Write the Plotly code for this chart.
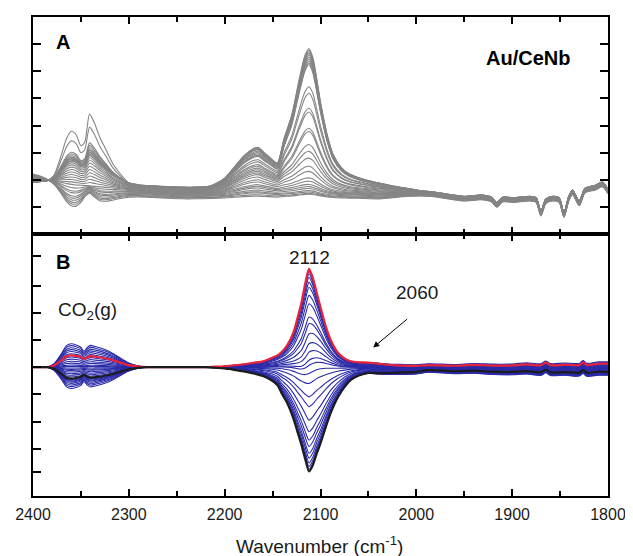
import numpy as np
import plotly.graph_objects as go

# ---------------- Panel A : raw spectra (grey) ----------------
wavenumber_A = [2400, 2392, 2385, 2378, 2370, 2365, 2360, 2355, 2350, 2346,
                2341, 2336, 2330, 2324, 2317, 2310, 2300, 2290, 2275, 2260,
                2245, 2230, 2215, 2200, 2190, 2180, 2170, 2165, 2158, 2150,
                2145, 2138, 2130, 2122, 2116, 2112, 2108, 2100, 2093, 2087,
                2078, 2070, 2060, 2050, 2040, 2025, 2010, 1995, 1984, 1965,
                1950, 1933, 1922, 1916, 1910, 1899, 1882, 1875, 1870, 1865,
                1858, 1851, 1846, 1841, 1837, 1830, 1824, 1813, 1806, 1800]

base_A = [1.98, 1.98, 1.98, 1.97, 1.96, 1.95, 1.94, 1.93, 1.92, 1.91,
          1.90, 1.88, 1.86, 1.84, 1.82, 1.80, 1.76, 1.72, 1.68, 1.65,
          1.63, 1.63, 1.64, 1.64, 1.64, 1.64, 1.64, 1.64, 1.64, 1.64,
          1.64, 1.64, 1.64, 1.64, 1.64, 1.64, 1.64, 1.64, 1.64, 1.64,
          1.64, 1.64, 1.64, 1.63, 1.62, 1.60, 1.58, 1.55, 1.52, 1.42,
          1.35, 1.40, 1.33, 1.12, 1.32, 1.30, 1.35, 1.30, 0.80, 1.25,
          1.35, 1.30, 0.75, 1.35, 1.58, 1.18, 1.65, 1.76, 1.88, 1.62]

band_2112_A = [0, 0, 0, 0, 0, 0, 0, 0, 0, 0,
               0, 0, 0, 0, 0, 0, 0, 0, 0, 0,
               0, 0, 0, 0, 0, 0, 0, 0, 0, 0,
               0, 0.22, 0.43, 0.74, 0.94, 1.0, 0.94, 0.62, 0.38, 0.24,
               0.14, 0.10, 0.07, 0.05, 0.035, 0.02, 0.01, 0, 0, 0,
               0, 0, 0, 0, 0, 0, 0, 0, 0, 0,
               0, 0, 0, 0, 0, 0, 0, 0, 0, 0]

band_2165_A = [0, 0, 0, 0, 0, 0, 0, 0, 0, 0,
               0, 0, 0, 0, 0, 0, 0, 0, 0, 0,
               0, 0, 0.02, 0.22, 0.50, 0.78, 0.97, 1.0, 0.85, 0.68,
               0.60, 0.50, 0.40, 0.30, 0.24, 0.20, 0.17, 0.10, 0.06, 0.04,
               0.02, 0, 0, 0, 0, 0, 0, 0, 0, 0,
               0, 0, 0, 0, 0, 0, 0, 0, 0, 0,
               0, 0, 0, 0, 0, 0, 0, 0, 0, 0]

co2_up_A = [0, 0, 0, 0.08, 0.40, 0.62, 0.73, 0.68, 0.52, 0.58,
            1.0, 0.88, 0.66, 0.50, 0.30, 0.17, 0.03, 0, 0, 0] + [0] * 50

co2_down_A = [0, 0, 0, 0.15, 0.55, 0.85, 1.0, 0.95, 0.70, 0.35,
              0.10, 0.30, 0.50, 0.50, 0.40, 0.28, 0.12, 0.03, 0, 0] + [0] * 50

offset_shape_A = ([-0.7, -0.45, -0.1, 0.15, 0.5, 0.75, 0.9, 1, 1, 1]
                  + [1] * 30
                  + [1, 1, 1, 1, 1, 0.8, 0.6, 0.45, 0.4, 0.4]
                  + [0.4] * 20)

peak_2112_A = [6.84, 6.78, 6.72, 6.66, 6.60, 6.52, 6.45, 6.38, 6.30, 6.24,
               5.43, 5.19, 4.64, 4.50, 3.90, 3.78, 3.30, 3.05, 2.80, 2.50,
               2.31, 2.07, 1.95, 1.83, 1.75, 1.68, 1.60, 1.55, 1.50, 1.47]
peak_2165_A = [3.20, 3.18, 3.15, 3.12, 3.10, 3.05, 3.00, 2.95, 2.90, 2.86,
               2.74, 2.66, 2.56, 2.50, 2.43, 2.37, 2.31, 2.25, 2.19, 2.10,
               2.00, 1.92, 1.82, 1.76, 1.70, 1.62, 1.56, 1.52, 1.45, 1.40]
co2_A = [0.9, 1.0, 1.1, 0.95, 1.2, 1.05, 1.3, 0.85, 1.15, 1.4,
         2.47, 2.0, 0.8, 0.7, 0.6, 0.5, 0.4, 0.3, 0.2, 0.1,
         0.0, -0.1, -0.2, -0.25, -0.35, -0.4, -0.45, -0.5, -0.55, -0.6]
offset_A = [0.10, 0.10, 0.09, 0.09, 0.08, 0.08, 0.07, 0.07, 0.06, 0.06,
            0.05, 0.04, 0.03, 0.02, 0.00, -0.02, -0.04, -0.06, -0.08, -0.10,
            -0.12, -0.14, -0.16, -0.18, -0.20, -0.22, -0.25, -0.28, -0.30, -0.33]

# ---------------- Panel B : difference spectra ----------------
wavenumber_B = [2400, 2390, 2385, 2378, 2370, 2365, 2360, 2355, 2350, 2347,
                2343, 2340, 2335, 2325, 2318, 2310, 2300, 2290, 2280, 2250,
                2220, 2210, 2200, 2190, 2180, 2170, 2160, 2152, 2145, 2140,
                2135, 2128, 2124, 2120, 2116, 2112, 2108, 2104, 2100, 2094,
                2089, 2082, 2075, 2068, 2060, 2050, 2040, 2030, 2020, 2000,
                1988, 1960, 1940, 1920, 1900, 1885, 1870, 1865, 1860, 1845,
                1830, 1826, 1822, 1810, 1800]

base_B = [0] * 50 + [0.03, 0.0, 0.03, 0.0, 0.0, 0.04, 0.0, 0.10, 0.0, 0.02,
                     0.0, 0.10, 0.0, 0.05, 0.05]

band_up_B = ([0] * 20
             + [0, 0.005, 0.01, 0.02, 0.03, 0.045, 0.06, 0.09, 0.12, 0.16,
                0.22, 0.36, 0.50, 0.65, 0.85, 1.0, 0.91, 0.76, 0.61, 0.40,
                0.27, 0.15, 0.09, 0.06, 0.05, 0.045, 0.03, 0.015, 0.007, 0]
             + [0] * 15)
band_down_B = ([0] * 20
               + [0, 0.005, 0.012, 0.025, 0.04, 0.06, 0.085, 0.12, 0.17, 0.26,
                  0.34, 0.50, 0.62, 0.74, 0.88, 1.0, 0.94, 0.83, 0.73, 0.56,
                  0.43, 0.29, 0.19, 0.12, 0.08, 0.05, 0.04, 0.03, 0.02, 0.01]
               + [0] * 15)
band_shift_B = ([0] * 30
                + [-0.05, -0.2, -0.35, -0.45, -0.35, 0, 0.3, 0.5, 0.55, 0.45,
                   0.3, 0.15, 0.05, 0, 0, 0, 0, 0, 0, 0]
                + [0] * 15)
co2_B = ([0, 0, 0, 0.15, 0.60, 0.92, 1.0, 0.95, 0.85, 0.68,
          0.85, 0.93, 0.88, 0.75, 0.62, 0.42, 0.18, 0.05, 0, 0] + [0] * 45)
tail_B = ([0] * 40
          + [0, 0, 0, 0, 0, 0.1, 0.3, 0.45, 0.55, 0.6,
             0.62, 0.68, 0.72, 0.76, 0.8, 0.83, 0.86, 0.87, 0.88, 0.91,
             0.94, 0.95, 0.96, 0.98, 1.0])

amp_2112_blue = [3.55, 3.46, 3.33, 3.15, 2.96, 2.66, 2.35, 1.86, 1.61, 1.24,
                 0.87, 0.56, 0.26, 0.07, -0.23, -0.60, -1.10, -1.46, -1.96, -2.39,
                 -2.70, -2.94, -3.19, -3.37, -3.55, -3.68, -3.78]
shift_blue = [0, 0, 0.05, 0.1, 0.15, 0.2, 0.25, 0.3, 0.35, 0.4,
              0.4, 0.35, 0.3, 0.25, 0.2, 0.15, 0.1, 0.05, 0, 0,
              0, 0, 0, 0, 0, 0, 0]
co2_blue = [0.87, 0.8, 0.72, 0.65, 0.58, 0.5, 0.38, 0.3, 0.22, 0.15,
            0.08, 0.03, -0.03, -0.08, -0.12, -0.18, -0.24, -0.3, -0.36, -0.45,
            -0.52, -0.6, -0.66, -0.72, -0.79, -0.55, -0.48]
tail_blue = [0.15, 0.12, 0.1, 0.08, 0.06, 0.04, 0.02, 0.0, -0.02, -0.04,
             -0.06, -0.08, -0.1, -0.12, -0.14, -0.16, -0.18, -0.2, -0.22, -0.24,
             -0.26, -0.28, -0.3, -0.32, -0.34, -0.35, -0.3]
red_curve = dict(amp=3.64, shift=0.0, co2=0.44, tail=0.08)
black_curve = dict(amp=-3.86, shift=0.0, co2=-0.42, tail=-0.22)

tickvals_A = [1, 2, 3, 4, 5, 6, 7]
tickvals_B_left = [4.13, 2.99, 1.99, 1.0, 0.0, -1.0, -2.03, -3.03, -3.87]
tickvals_B_right = [3.69, 2.56, 1.58, 0.55, -0.43, -1.45, -2.46, -3.44, -4.30]

# ---------------- build curves ----------------
wA = np.array(wavenumber_A, float)
bA = np.array(base_A); p12A = np.array(band_2112_A); p16A = np.array(band_2165_A)
cuA = np.array(co2_up_A); cdA = np.array(co2_down_A); oA = np.array(offset_shape_A)
i165 = wavenumber_A.index(2165)
i112 = wavenumber_A.index(2112)

fig = go.Figure()
for pk12, pk16, c, off in zip(peak_2112_A, peak_2165_A, co2_A, offset_A):
    level = bA + off * oA
    a16 = pk16 - level[i165]
    a12 = pk12 - level[i112] - a16 * p16A[i112]
    prof = cuA if c >= 0 else cdA
    y = level + a16 * p16A + a12 * p12A + c * prof
    fig.add_trace(go.Scatter(x=wA, y=y, mode="lines", xaxis="x", yaxis="y",
                             line=dict(color="#858585", width=1.1, shape="spline", smoothing=0.7),
                             hoverinfo="skip", showlegend=False))

wB = np.array(wavenumber_B, float)
bB = np.array(base_B); upB = np.array(band_up_B); dnB = np.array(band_down_B)
shB = np.array(band_shift_B); cB = np.array(co2_B); tB = np.array(tail_B)


def curve_B(amp, shift, co2, tail):
    prof = upB if amp >= 0 else dnB
    return bB + amp * prof + shift * shB + co2 * cB + tail * tB


for amp, sh, c, t in zip(amp_2112_blue, shift_blue, co2_blue, tail_blue):
    fig.add_trace(go.Scatter(x=wB, y=curve_B(amp, sh, c, t), mode="lines", xaxis="x2", yaxis="y2",
                             line=dict(color="#2a2aa8", width=1.1, shape="spline", smoothing=0.7),
                             hoverinfo="skip", showlegend=False))
fig.add_trace(go.Scatter(x=wB, y=curve_B(**red_curve), mode="lines", xaxis="x2", yaxis="y2",
                         line=dict(color="#e8243c", width=2.2, shape="spline", smoothing=0.7),
                         hoverinfo="skip", showlegend=False))
fig.add_trace(go.Scatter(x=wB, y=curve_B(**black_curve), mode="lines", xaxis="x2", yaxis="y2",
                         line=dict(color="#1c1c1c", width=2.2, shape="spline", smoothing=0.7),
                         hoverinfo="skip", showlegend=False))

FONT = "Liberation Sans, Arial, sans-serif"
split = 263 / 481

xcommon = dict(range=[2400, 1800], showgrid=False, zeroline=False, showline=True,
               linecolor="black", linewidth=2, mirror="ticks", ticks="inside",
               ticklen=7, tickwidth=1.5, tickcolor="black", dtick=100, tick0=0,
               minor=dict(dtick=50, ticklen=5, ticks="inside", tickwidth=1.5, tickcolor="black"))

# the page body keeps an 8 px default margin, so the figure is 8 px smaller
fig.update_layout(
    width=625, height=548,
    margin=dict(l=20, r=20, t=7, b=60),
    plot_bgcolor="white", paper_bgcolor="white",
    font=dict(family=FONT, color="#1a1a1a"),
    xaxis=dict(xcommon, anchor="y", domain=[0, 1], showticklabels=False),
    xaxis2=dict(xcommon, anchor="y2", domain=[0, 1], showticklabels=True,
                ticklabelstandoff=3,
                tickfont=dict(size=16, family=FONT, color="#1a1a1a")),
    yaxis=dict(domain=[split, 1], range=[0, 8], anchor="x", tickvals=tickvals_A,
               ticks="inside", ticklen=8, tickwidth=1.5, tickcolor="black",
               showticklabels=False, showline=True, linecolor="black", linewidth=2,
               mirror="ticks", showgrid=False, zeroline=False),
    yaxis2=dict(domain=[0, split], range=[-4.77, 4.93], anchor="x2", tickvals=tickvals_B_left,
                ticks="inside", ticklen=8, tickwidth=1.5, tickcolor="black",
                showticklabels=False, showline=True, linecolor="black", linewidth=2,
                mirror=True, showgrid=False, zeroline=False),
    yaxis3=dict(overlaying="y2", side="right", anchor="x2", range=[-4.77, 4.93],
                tickvals=tickvals_B_right, ticks="inside", ticklen=8, tickwidth=1.5,
                tickcolor="black", showticklabels=False, showline=False,
                showgrid=False, zeroline=False),
)

annotations = [
    dict(x=2369, y=7.08, xref="x", yref="y", text="<b>A</b>", showarrow=False,
         font=dict(size=20, family=FONT, color="black")),
    dict(x=1883, y=6.5, xref="x", yref="y", text="<b>Au/CeNb</b>", showarrow=False,
         font=dict(size=20, family=FONT, color="black")),
    dict(x=2369, y=3.9, xref="x2", yref="y2", text="<b>B</b>", showarrow=False,
         font=dict(size=20, family=FONT, color="black")),
    dict(x=2111.8, y=4.05, xref="x2", yref="y2", text="2112", showarrow=False,
         font=dict(size=19, family=FONT, color="#1a1a1a")),
    dict(x=1999, y=2.76, xref="x2", yref="y2", text="2060", showarrow=False,
         font=dict(size=19, family=FONT, color="#1a1a1a")),
    dict(x=2343.6, y=2.09, xref="x2", yref="y2", text="CO<sub>2</sub>(g)", showarrow=False,
         font=dict(size=19, family=FONT, color="#1a1a1a")),
    dict(x=2045, y=0.73, xref="x2", yref="y2", ax=2008, ay=1.83, axref="x2", ayref="y2",
         text="", showarrow=True, arrowhead=2, arrowsize=1.2, arrowwidth=1, arrowcolor="black"),
    dict(x=0.499, y=-0.102, xref="paper", yref="paper", text="Wavenumber (cm<sup>-1</sup>)",
         showarrow=False, yanchor="middle", font=dict(size=19, family=FONT, color="#1a1a1a")),
]
fig.update_layout(annotations=annotations)

fig.write_html("out.html")
